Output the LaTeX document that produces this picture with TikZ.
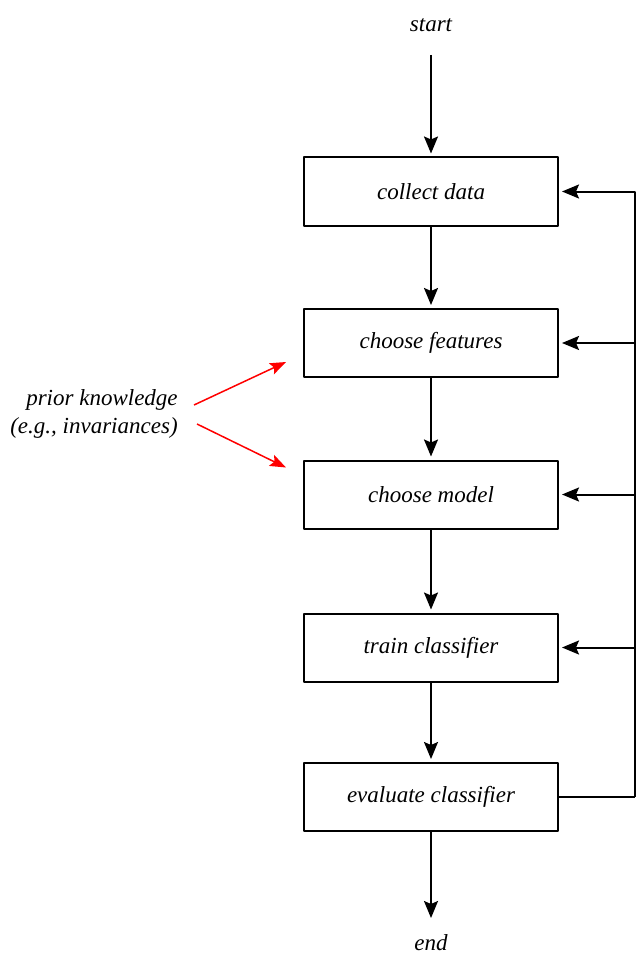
\documentclass[tikz,border=0pt]{standalone}
\usepackage{fontspec}
\setmainfont{Liberation Serif}
\usetikzlibrary{arrows.meta}
\begin{document}
\begin{tikzpicture}[x=1pt,y=-1pt,line join=round,>={Stealth[length=17pt,width=14pt,inset=3pt]},line width=2pt]
	\tikzset{every node/.style={font=\fontsize{23}{28}\selectfont\itshape},
		stepbox/.style={draw,minimum width=254pt,minimum height=68pt,inner sep=0pt},
		flow/.style={->,shorten >=3pt},
		hint/.style={->,red,line width=1.5pt,>={Stealth[length=16pt,width=12pt,inset=3pt]}}}
	\useasboundingbox (0,0) rectangle (637,960);
	% the steps
	\node (start) at (431,25) {start};
	\node[stepbox] (collect) at (431,191.5) {collect data};
	\node[stepbox] (features) at (431,343) {choose features};
	\node[stepbox] (model) at (431,494.5) {choose model};
	\node[stepbox] (train) at (431,647.5) {train classifier};
	\node[stepbox] (evaluate) at (431,797) {evaluate classifier};
	\node (end) at (431,943) {end};
	\coordinate (top) at (431,55);
	\coordinate (bottom) at (431,918);
	\draw[flow] (top) -- (collect);
	\draw[flow] (collect) -- (features);
	\draw[flow] (features) -- (model);
	\draw[flow] (model) -- (train);
	\draw[flow] (train) -- (evaluate);
	\draw[->] (evaluate) -- (bottom);
	% feedback
	\coordinate (fb) at (635,797);
	\draw (evaluate.east) -- (fb);
	\draw[flow] (fb) |- (collect.east);
	\foreach \n in {features,model,train}
	\draw[flow] (fb |- \n.east) -- (\n.east);
	% prior knowledge
	\node[align=right,anchor=east] (prior) at (182,414) {prior knowledge\\(e.g., invariances)};
	\draw[hint] ([xshift=12pt,yshift=9pt]prior.east) -- ([xshift=-17pt,yshift=-19pt]features.west);
	\draw[hint] ([xshift=15pt,yshift=-10pt]prior.east) -- ([xshift=-17pt,yshift=27pt]model.west);
\end{tikzpicture}
\end{document}
